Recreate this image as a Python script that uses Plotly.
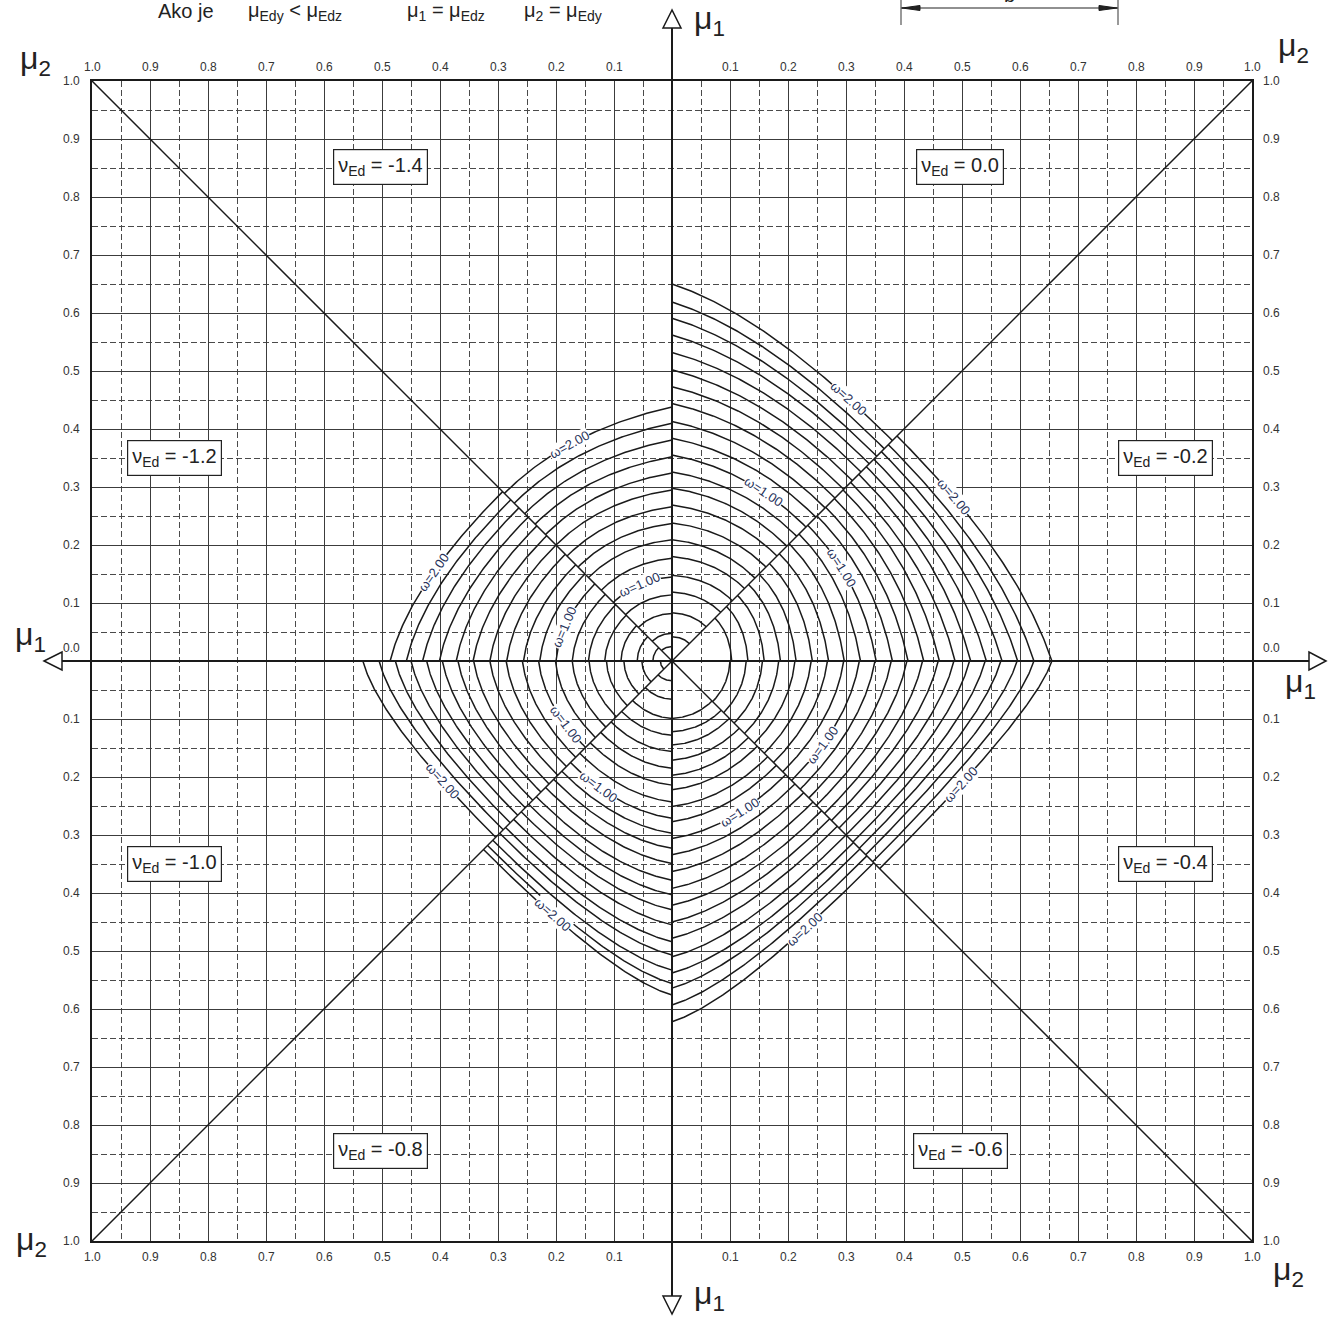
import math
import numpy as np
import plotly.graph_objects as go

# ---------------------------------------------------------------------------
# Interaction diagram data: one family of curves per nu_Ed octant,
# listed from the innermost curve outwards.
# A_*: value on the main mu1 axis (mu2 = 0)
# D_*: value where the curve reaches the diagonal mu1 = mu2
# ---------------------------------------------------------------------------
NU_VALUES = ["0.0", "-0.2", "-0.4", "-0.6", "-0.8", "-1.0", "-1.2", "-1.4"]

A_NU_00 = [0.042, 0.083, 0.119, 0.148, 0.180, 0.209, 0.238, 0.269, 0.298, 0.326, 0.355, 0.384, 0.413, 0.444, 0.473, 0.502, 0.532, 0.562, 0.591, 0.619, 0.650]
D_NU_00 = [0.030, 0.059, 0.084, 0.104, 0.125, 0.143, 0.162, 0.181, 0.198, 0.215, 0.231, 0.248, 0.264, 0.281, 0.296, 0.311, 0.326, 0.340, 0.353, 0.366, 0.380]

A_NU_02 = [0.103, 0.131, 0.159, 0.187, 0.214, 0.242, 0.270, 0.297, 0.325, 0.352, 0.380, 0.407, 0.434, 0.461, 0.488, 0.515, 0.542, 0.569, 0.596, 0.624, 0.655]
D_NU_02 = [0.074, 0.094, 0.113, 0.132, 0.150, 0.168, 0.185, 0.202, 0.219, 0.234, 0.250, 0.265, 0.280, 0.295, 0.308, 0.322, 0.335, 0.348, 0.361, 0.373, 0.388]

A_NU_04 = [0.100, 0.128, 0.156, 0.184, 0.212, 0.240, 0.268, 0.296, 0.323, 0.350, 0.378, 0.405, 0.432, 0.459, 0.486, 0.513, 0.540, 0.567, 0.595, 0.624, 0.655]
D_NU_04 = [0.070, 0.089, 0.107, 0.125, 0.142, 0.159, 0.175, 0.191, 0.206, 0.221, 0.236, 0.249, 0.263, 0.275, 0.288, 0.300, 0.312, 0.323, 0.334, 0.346, 0.358]

A_NU_06 = [0.099, 0.122, 0.145, 0.171, 0.197, 0.222, 0.251, 0.277, 0.306, 0.334, 0.363, 0.392, 0.421, 0.450, 0.478, 0.510, 0.538, 0.564, 0.593, 0.622]
D_NU_06 = [0.069, 0.085, 0.099, 0.116, 0.132, 0.147, 0.165, 0.180, 0.196, 0.212, 0.227, 0.243, 0.258, 0.272, 0.285, 0.300, 0.313, 0.324, 0.336, 0.348]

A_NU_08 = [0.034, 0.066, 0.099, 0.128, 0.156, 0.185, 0.214, 0.243, 0.271, 0.297, 0.323, 0.349, 0.378, 0.403, 0.429, 0.455, 0.484, 0.507, 0.533, 0.556, 0.576]
D_NU_08 = [0.024, 0.046, 0.068, 0.087, 0.105, 0.123, 0.141, 0.159, 0.175, 0.190, 0.204, 0.218, 0.234, 0.247, 0.260, 0.273, 0.287, 0.297, 0.309, 0.318, 0.325]

A_NU_10 = [0.020, 0.052, 0.083, 0.113, 0.143, 0.172, 0.201, 0.230, 0.258, 0.286, 0.314, 0.342, 0.369, 0.396, 0.423, 0.450, 0.477, 0.505, 0.533]
D_NU_10 = [0.014, 0.036, 0.057, 0.077, 0.096, 0.114, 0.132, 0.149, 0.166, 0.182, 0.197, 0.212, 0.226, 0.240, 0.253, 0.266, 0.279, 0.291, 0.304]

A_NU_12 = [0.033, 0.060, 0.088, 0.116, 0.144, 0.172, 0.200, 0.228, 0.256, 0.285, 0.314, 0.343, 0.372, 0.401, 0.430, 0.458, 0.486]
D_NU_12 = [0.023, 0.042, 0.061, 0.079, 0.097, 0.115, 0.133, 0.150, 0.166, 0.184, 0.200, 0.216, 0.233, 0.248, 0.264, 0.278, 0.292]

A_NU_14 = [0.025, 0.048, 0.082, 0.114, 0.145, 0.177, 0.209, 0.237, 0.266, 0.295, 0.324, 0.352, 0.381, 0.410, 0.438]
D_NU_14 = [0.018, 0.034, 0.058, 0.080, 0.101, 0.122, 0.144, 0.162, 0.181, 0.200, 0.218, 0.236, 0.254, 0.272, 0.289]

# omega labels: text and the (mu2, mu1) point of the family where it is written
OMEGA_LABELS = {
    "0.0": [("ω=1.00", 0.157, 0.278), ("ω=2.00", 0.303, 0.476)],
    "-0.2": [("ω=1.00", 0.162, 0.286), ("ω=2.00", 0.283, 0.493)],
    "-0.4": [("ω=1.00", 0.145, 0.266), ("ω=2.00", 0.214, 0.502)],
    "-0.6": [("ω=1.00", 0.117, 0.260), ("ω=2.00", 0.229, 0.464)],
    "-0.8": [("ω=1.00", 0.128, 0.220), ("ω=2.00", 0.205, 0.447)],
    "-1.0": [("ω=1.00", 0.110, 0.184), ("ω=2.00", 0.205, 0.405)],
    "-1.2": [("ω=1.00", 0.059, 0.190), ("ω=2.00", 0.153, 0.426)],
    "-1.4": [("ω=1.00", 0.055, 0.136), ("ω=2.00", 0.176, 0.367)],
}

TICK_VALUES = [0.1, 0.2, 0.3, 0.4, 0.5, 0.6, 0.7, 0.8, 0.9, 1.0]
TICK_TEXT = ["0.1", "0.2", "0.3", "0.4", "0.5", "0.6", "0.7", "0.8", "0.9", "1.0"]

# octant geometry: (x, y) from local (q = secondary, p = primary)
OCTANT_MAP = {
    "0.0": lambda q, p: (q, p),
    "-0.2": lambda q, p: (p, q),
    "-0.4": lambda q, p: (p, -q),
    "-0.6": lambda q, p: (q, -p),
    "-0.8": lambda q, p: (-q, -p),
    "-1.0": lambda q, p: (-p, -q),
    "-1.2": lambda q, p: (-p, q),
    "-1.4": lambda q, p: (-q, p),
}
FAMILIES = {
    "0.0": (A_NU_00, D_NU_00), "-0.2": (A_NU_02, D_NU_02),
    "-0.4": (A_NU_04, D_NU_04), "-0.6": (A_NU_06, D_NU_06),
    "-0.8": (A_NU_08, D_NU_08), "-1.0": (A_NU_10, D_NU_10),
    "-1.2": (A_NU_12, D_NU_12), "-1.4": (A_NU_14, D_NU_14),
}
# centres of the nu_Ed boxes (axis units)
NU_BOX_POS = {
    "0.0": (0.497, 0.852), "-0.2": (0.850, 0.350), "-0.4": (0.850, -0.350),
    "-0.6": (0.497, -0.845), "-0.8": (-0.502, -0.845), "-1.0": (-0.857, -0.350),
    "-1.2": (-0.857, 0.350), "-1.4": (-0.502, 0.852),
}

# ---------------------------------------------------------------------------
W, H = 1333, 1318
ML, MR, MT, MB = 92, 81, 81, 77
PX = 580.0  # pixels per unit
CX, CY = ML + PX, MT + PX

FONT = "Liberation Sans, Arial, sans-serif"
INK = "#1a1a1a"
KINK = 0.33  # slope of the largest curves where they leave the mu1 axis


def contour(a, d, weight=1.0, n=90):
    """Rounded curve from (q=0, p=a) on the axis to (d, d) on the diagonal."""
    slope = KINK * a / 0.65
    qs = (2 * d - a) / (1 - slope)
    ps = a - slope * qs
    t = np.linspace(0, 1, n)
    b0, b1, b2 = (1 - t) ** 2, 2 * weight * t * (1 - t), t ** 2
    den = b0 + b1 + b2
    q = (b1 * qs + b2 * d) / den
    p = (b0 * a + b1 * ps + b2 * d) / den
    return q, p


def paper(px, py):
    return (px - ML) / (2 * PX), (H - MB - py) / (2 * PX)


def text_at(px, py, text, font, xanchor="center", yanchor="middle", **kw):
    xp, yp = paper(px, py)
    return dict(x=xp, y=yp, xref="paper", yref="paper", text=text, showarrow=False,
                xanchor=xanchor, yanchor=yanchor, font=font, **kw)


fig = go.Figure()
annotations = []
shapes = []

for nu in NU_VALUES:
    avals, dvals = FAMILIES[nu]
    fmap = OCTANT_MAP[nu]
    xs, ys = [], []
    curves = []
    for a, d in zip(avals, dvals):
        q, p = contour(a, d)
        curves.append((q, p))
        x, y = fmap(q, p)
        xs.extend(list(x) + [None])
        ys.extend(list(y) + [None])
    fig.add_trace(go.Scatter(x=xs, y=ys, mode="lines", hoverinfo="skip",
                             line=dict(color=INK, width=1.5), showlegend=False))

    # omega labels written along the curve passing nearest to their spot
    for text, qlab, plab in OMEGA_LABELS[nu]:
        best = None
        for q, p in curves:
            if q[-1] < qlab:
                continue
            i = int(np.argmin(np.abs(q - qlab)))
            err = abs(p[i] - plab)
            if best is None or err < best[0]:
                best = (err, q, p, i)
        _, q, p, i = best
        i = min(max(i, 2), len(q) - 3)
        x0, y0 = fmap(q[i - 2], p[i - 2])
        x1, y1 = fmap(q[i + 2], p[i + 2])
        ang = math.degrees(math.atan2(-(y1 - y0), (x1 - x0)))
        if ang > 90:
            ang -= 180
        if ang <= -90:
            ang += 180
        xl, yl = fmap(q[i], p[i])
        annotations.append(dict(
            x=xl, y=yl, xref="x", yref="y", text=text,
            showarrow=False, textangle=ang, bgcolor="white", borderpad=0,
            xanchor="center", yanchor="middle",
            font=dict(family=FONT, size=13, color="#27325a"),
        ))

# diagonals
fig.add_trace(go.Scatter(x=[-1, 1, None, -1, 1], y=[1, -1, None, -1, 1], mode="lines",
                         line=dict(color=INK, width=1.5), hoverinfo="skip", showlegend=False))

# nu_Ed boxes
for nu in NU_VALUES:
    bx, by = NU_BOX_POS[nu]
    annotations.append(dict(
        x=bx, y=by, xref="x", yref="y", showarrow=False, xanchor="center", yanchor="middle",
        text=f"ν<sub>Ed</sub> = {nu}", bgcolor="white", bordercolor="#222",
        borderwidth=1.2, borderpad=4, font=dict(family=FONT, size=20, color="#222"),
    ))

# tick labels around the frame
tick_font = dict(family=FONT, size=12, color="#333")
for v, s in zip(TICK_VALUES, TICK_TEXT):
    for sx in (-1, 1):
        annotations.append(text_at(CX + sx * v * PX, 67, s, tick_font))
        annotations.append(text_at(CX + sx * v * PX, 1257, s, tick_font))
    for sy in (-1, 1):
        annotations.append(text_at(82, CY - sy * v * PX, s, tick_font, xanchor="right"))
        annotations.append(text_at(1261, CY - sy * v * PX, s, tick_font, xanchor="left"))
annotations.append(text_at(82, 648, "0.0", tick_font, xanchor="right"))
annotations.append(text_at(1261, 648, "0.0", tick_font, xanchor="left"))

# axis names
mu_font = dict(family=FONT, size=32, color="#222")
for txt, (px_, py_) in [("μ<sub>2</sub>", (35, 60)), ("μ<sub>2</sub>", (1293, 48)),
                        ("μ<sub>2</sub>", (31, 1241)), ("μ<sub>2</sub>", (1288, 1271)),
                        ("μ<sub>1</sub>", (709, 20)), ("μ<sub>1</sub>", (709, 1295)),
                        ("μ<sub>1</sub>", (30, 636)), ("μ<sub>1</sub>", (1300, 683))]:
    annotations.append(text_at(px_, py_, txt, mu_font))

# header
head_font = dict(family=FONT, size=20, color="#222")
for txt, px_ in [("Ako je", 186), ("μ<sub>Edy</sub> < μ<sub>Edz</sub>", 295),
                 ("μ<sub>1</sub> = μ<sub>Edz</sub>", 446), ("μ<sub>2</sub> = μ<sub>Edy</sub>", 563)]:
    annotations.append(text_at(px_, 11, txt, head_font))
annotations.append(text_at(1009, -5, "b", head_font))


def pline(x0, y0, x1, y1, width=1.8, color=INK):
    a0, b0 = paper(x0, y0)
    a1, b1 = paper(x1, y1)
    return dict(type="line", xref="paper", yref="paper", x0=a0, y0=b0, x1=a1, y1=b1,
                line=dict(color=color, width=width), layer="above")


def ppath(points, fill="white", width=1.5):
    coords = [paper(*pt) for pt in points]
    path = "M " + " L ".join(f"{u:.5f},{v:.5f}" for u, v in coords) + " Z"
    return dict(type="path", xref="paper", yref="paper", path=path, fillcolor=fill,
                line=dict(color=INK, width=width), layer="above")


# main axes with open arrow heads
shapes.append(pline(62, CY, 1309, CY, width=2))
shapes.append(pline(CX, 28, CX, 1296, width=2))
shapes.append(ppath([(44, CY), (62, CY - 9), (62, CY + 9)]))
shapes.append(ppath([(1326, CY), (1309, CY - 9), (1309, CY + 9)]))
shapes.append(ppath([(CX, 10), (CX - 9, 28), (CX + 9, 28)]))
shapes.append(ppath([(CX, 1314), (CX - 9, 1296), (CX + 9, 1296)]))

# dimension line at the top
shapes.append(pline(901, 0, 901, 25, width=1.2, color="#555"))
shapes.append(pline(1118, 0, 1118, 25, width=1.2, color="#555"))
shapes.append(pline(901, 8, 1118, 8, width=1.2, color="#222"))
shapes.append(ppath([(902, 8), (920, 5.5), (920, 10.5)], fill="#222", width=1))
shapes.append(ppath([(1117, 8), (1099, 5.5), (1099, 10.5)], fill="#222", width=1))

axis_common = dict(
    range=[-1, 1], showticklabels=False, ticks="", zeroline=False,
    showgrid=True, gridcolor="#3c3c3c", gridwidth=1, dtick=0.1, tick0=0,
    showline=True, linecolor=INK, linewidth=1.6, mirror=True,
    minor=dict(dtick=0.05, tick0=0, showgrid=True, griddash="6px,3px", gridcolor="#4a4a4a", gridwidth=1),
    fixedrange=True,
)
fig.update_layout(
    width=W, height=H, autosize=False,
    margin=dict(l=ML, r=MR, t=MT, b=MB),
    paper_bgcolor="white", plot_bgcolor="white",
    xaxis=axis_common, yaxis=axis_common,
    annotations=annotations, shapes=shapes,
    showlegend=False,
)
fig.write_html("out.html")
